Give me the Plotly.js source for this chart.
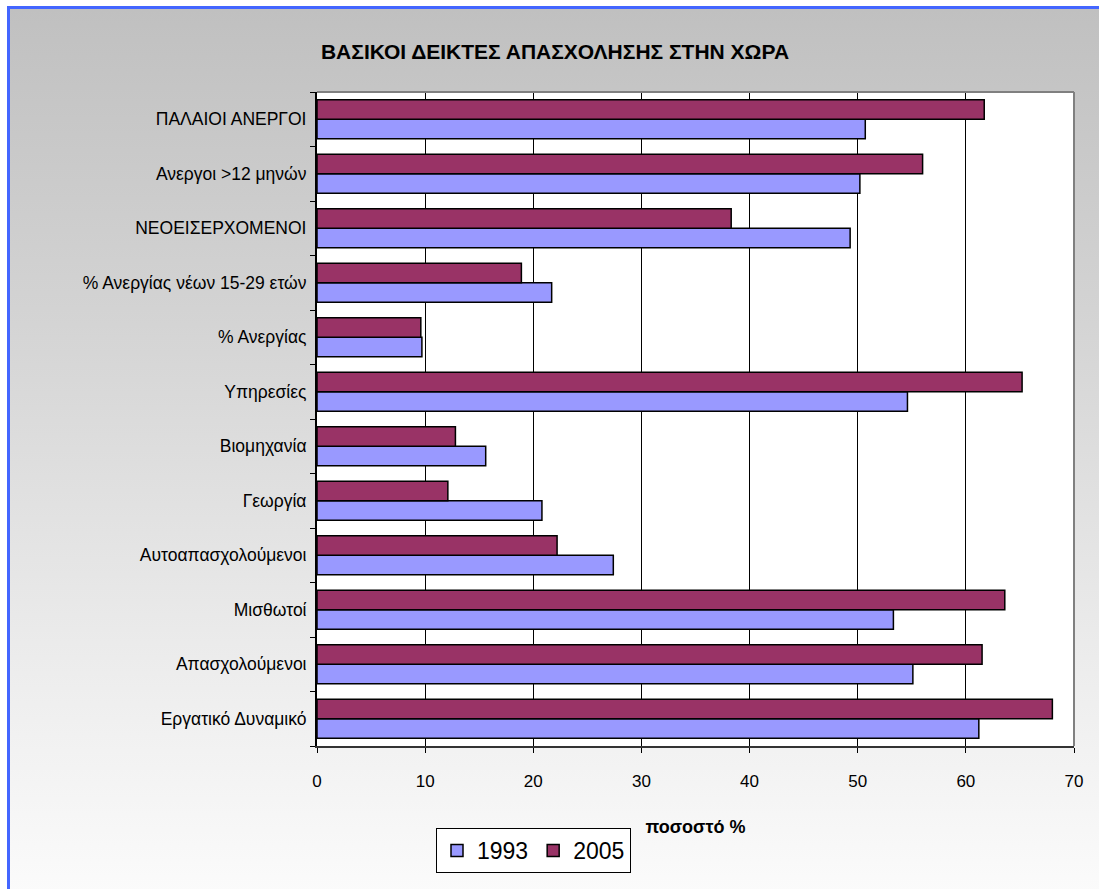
<!DOCTYPE html>
<html>
<head>
<meta charset="utf-8">
<script src="https://cdn.plot.ly/plotly-3.0.1.min.js"></script>
<style>
  html, body { margin: 0; padding: 0; background: #ffffff; width: 1099px; height: 889px; overflow: hidden; }
  #bg { position: absolute; left: 7px; top: 6px; width: 1110px; height: 900px;
        border-left: 3px solid #4466ff; border-top: 3px solid #4466ff;
        background: linear-gradient(to bottom, #c0c0c0 0%, #d4d4d4 35%, #ececec 72%, #fcfcfc 100%); }
  #chart { position: absolute; left: 0; top: 0; width: 1099px; height: 889px; }
</style>
</head>
<body>
<div id="bg"></div>
<div id="chart"></div>
<script>
// Categories listed bottom to top (as drawn on the y axis)
const categories = [
  "Εργατικό Δυναμικό",
  "Απασχολούμενοι",
  "Μισθωτοί",
  "Αυτοαπασχολούμενοι",
  "Γεωργία",
  "Βιομηχανία",
  "Υπηρεσίες",
  "% Ανεργίας",
  "% Ανεργίας νέων 15-29 ετών",
  "ΝΕΟΕΙΣΕΡΧΟΜΕΝΟΙ",
  "Ανεργοι >12 μηνών",
  "ΠΑΛΑΙΟΙ ΑΝΕΡΓΟΙ"
];
const values1993 = [61.2, 55.1, 53.3, 27.4, 20.8, 15.6, 54.6, 9.7, 21.7, 49.3, 50.2, 50.7];
const values2005 = [68.0, 61.5, 63.6, 22.2, 12.1, 12.8, 65.2, 9.6, 18.9, 38.3, 56.0, 61.7];
const seriesNames = ["1993", "2005"];
const xTicks = [0, 10, 20, 30, 40, 50, 60, 70];

const FONT = "'Liberation Sans', Arial, sans-serif";

const traces = [
  {
    type: "bar", orientation: "h", name: seriesNames[0],
    y: categories, x: values1993,
    marker: { color: "#9999ff", line: { color: "#000000", width: 1.5 } },
    hoverinfo: "x+y"
  },
  {
    type: "bar", orientation: "h", name: seriesNames[1],
    y: categories, x: values2005,
    marker: { color: "#993366", line: { color: "#000000", width: 1.5 } },
    hoverinfo: "x+y"
  }
];

const layout = {
  width: 1099, height: 889,
  paper_bgcolor: "rgba(0,0,0,0)",
  plot_bgcolor: "#ffffff",
  margin: { l: 317, r: 25, t: 92, b: 143, pad: 0 },
  barmode: "group",
  bargap: 0.285,
  bargroupgap: 0,
  font: { family: FONT, color: "#000000", size: 17 },
  title: {
    text: "<b>ΒΑΣΙΚΟΙ ΔΕΙΚΤΕΣ ΑΠΑΣΧΟΛΗΣΗΣ ΣΤΗΝ ΧΩΡΑ</b>",
    font: { family: FONT, size: 21, color: "#000000" },
    x: 555 / 1099, xanchor: "center", xref: "container",
    y: 1 - 52 / 889, yanchor: "middle", yref: "container"
  },
  xaxis: {
    range: [0, 70],
    tickvals: xTicks,
    ticktext: xTicks.map(String),
    showgrid: true, gridcolor: "#000000", gridwidth: 1,
    zeroline: false,
    showline: true, linecolor: "#333333", linewidth: 2,
    ticks: "outside", ticklen: 5, tickcolor: "#000000",
    ticklabelstandoff: 14,
    tickfont: { family: FONT, size: 17, color: "#000000" },
    title: { text: "<b>ποσοστό %</b>", font: { family: FONT, size: 18, color: "#000000" }, standoff: 30 },
    fixedrange: true
  },
  yaxis: {
    type: "category",
    categoryorder: "array", categoryarray: categories,
    showgrid: false, zeroline: false,
    showline: true, linecolor: "#000000", linewidth: 2,
    ticks: "outside", tickson: "boundaries", ticklen: 5, tickcolor: "#000000",
    ticklabelstandoff: 5,
    tickfont: { family: FONT, size: 17.5, color: "#000000" },
    fixedrange: true
  },
  shapes: [
    { type: "line", xref: "paper", yref: "paper", x0: 0, x1: 1, y0: 1, y1: 1, line: { color: "#808080", width: 2 }, layer: "above" },
    { type: "line", xref: "paper", yref: "paper", x0: 1, x1: 1, y0: 0, y1: 1, line: { color: "#808080", width: 2 }, layer: "above" }
  ],
  showlegend: true,
  legend: {
    orientation: "h",
    x: (436 - 317) / 757, xanchor: "left",
    y: (746 - 828) / 654, yanchor: "top",
    bgcolor: "#ffffff", bordercolor: "#000000", borderwidth: 1,
    font: { family: FONT, size: 23, color: "#000000" },
    traceorder: "normal",
    itemwidth: 30
  }
};

Plotly.newPlot("chart", traces, layout, { displayModeBar: false, staticPlot: true });
</script>
</body>
</html>
